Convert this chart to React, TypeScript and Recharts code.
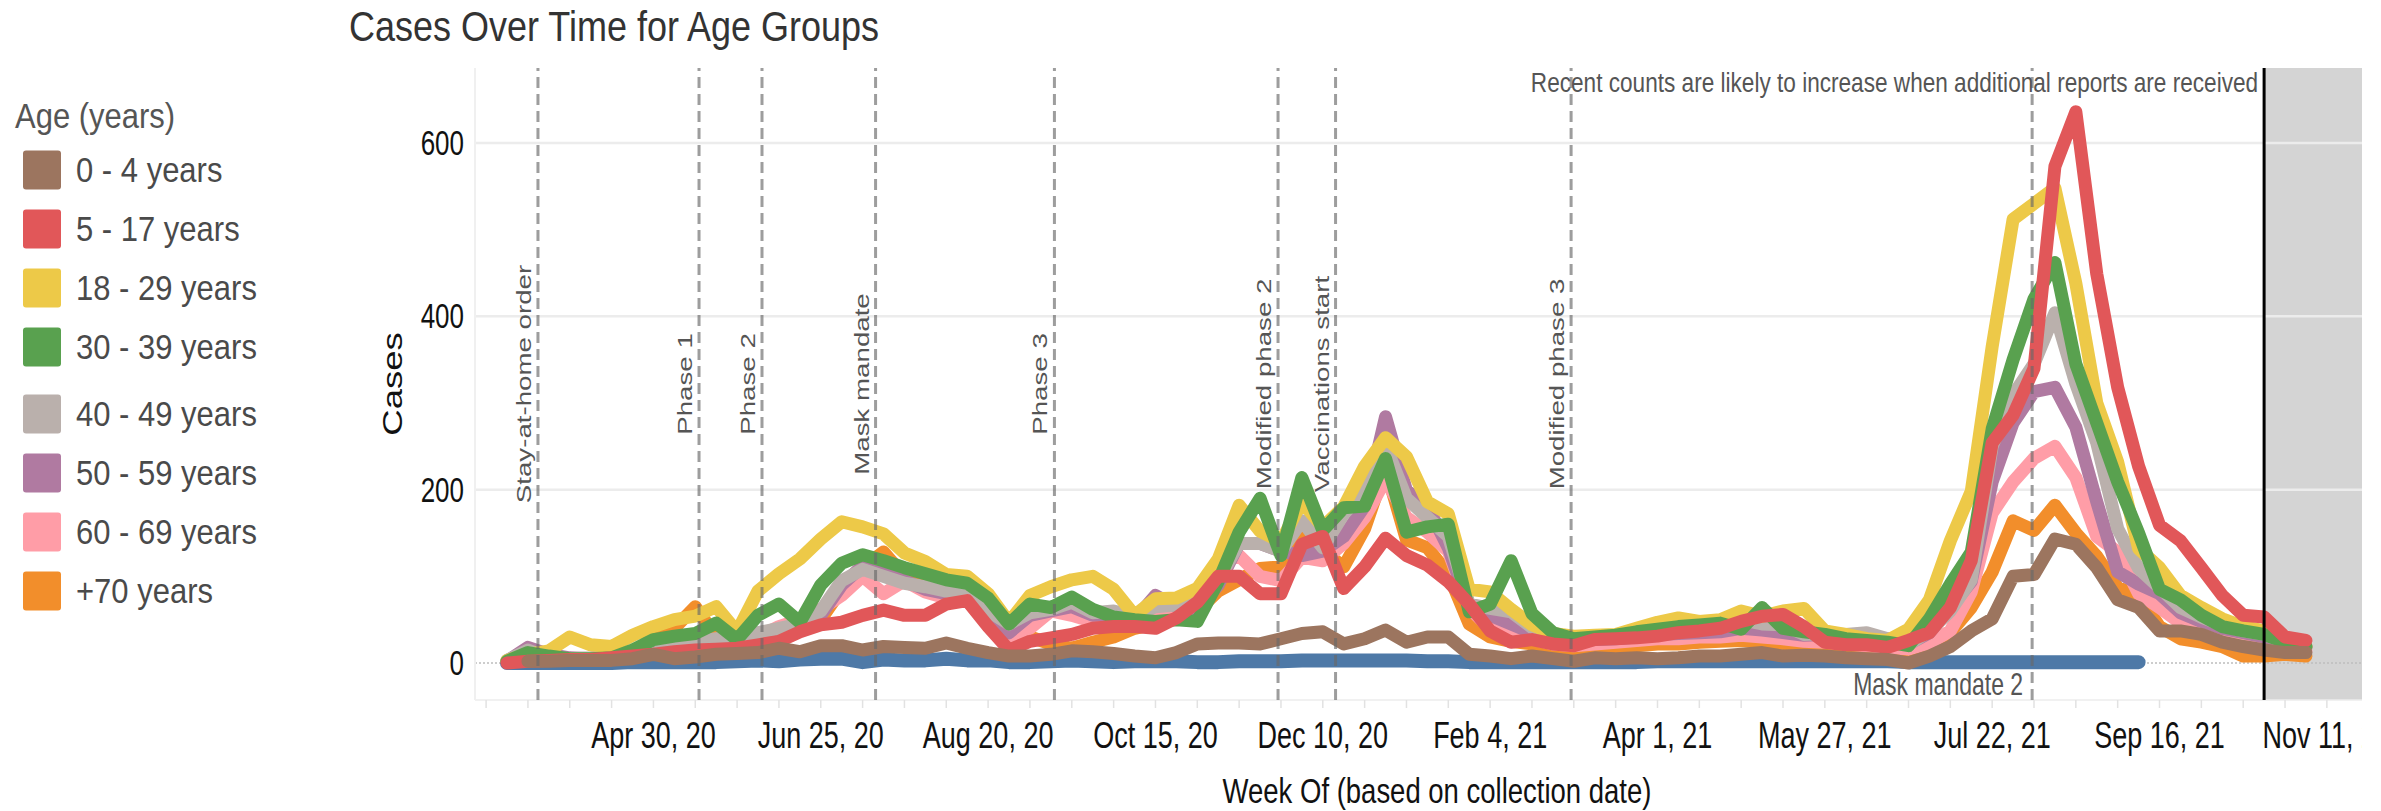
import React from "react";
import { LineChart, Line, XAxis, YAxis, ReferenceLine, ReferenceArea } from "recharts";

const FONT = '"Liberation Sans", Arial, Helvetica, sans-serif';
// text in the reference is drawn taller than wide
const STRETCH = 1.35;

const CHART_W = 2381;
const CHART_H = 811;
const MARGIN = { top: 68, right: 19, bottom: 0, left: 0 };
const PLOT_RIGHT = CHART_W - MARGIN.right;

// week index 0 = week of Mar 12, 2020
const tickWeeks = [7, 15, 23, 31, 39, 47, 55, 63, 71, 79, 87];
const tickLabels = [
  "Apr 30, 20",
  "Jun 25, 20",
  "Aug 20, 20",
  "Oct 15, 20",
  "Dec 10, 20",
  "Feb 4, 21",
  "Apr 1, 21",
  "May 27, 21",
  "Jul 22, 21",
  "Sep 16, 21",
  "Nov 11, 21",
];

const eventWeeks = [1.48, 9.18, 12.19, 17.62, 26.17, 36.86, 39.61, 50.87, 72.91];
const eventLabels = [
  "Stay-at-home order",
  "Phase 1",
  "Phase 2",
  "Mask mandate",
  "Phase 3",
  "Modified phase 2",
  "Vaccinations start",
  "Modified phase 3",
  "Mask mandate 2",
];
const recentCutoffWeek = 84;

const ageLabels = [
  "0 - 4 years",
  "5 - 17 years",
  "18 - 29 years",
  "30 - 39 years",
  "40 - 49 years",
  "50 - 59 years",
  "60 - 69 years",
  "+70 years",
];
const ageColors = ["#9c755f", "#e15759", "#edc948", "#59a14f", "#bab0ac", "#b07aa1", "#ff9da7", "#f28e2b"];

const age0to4 = [
  null, 2, 2, 3, 3, 3, 5, 10, 5, 7,
  10, 11, 12, 17, 13, 20, 20, 15, 19, 18,
  17, 23, 17, 12, 8, 8, 10, 14, 13, 11,
  8, 6, 12, 22, 23, 23, 22, 28, 34, 36,
  22, 28, 38, 24, 30, 30, 10, 8, 5, 8,
  5, 2, 6, 5, 6, 5, 6, 8, 8, 10,
  12, 8, 9, 8, 6, 5, 4, 0, 8, 19,
  37, 51, 100, 102, 143, 137, 110, 73, 64, 37,
  37, 33, 24, 19, 15, 12, 12,
];
const age5to17 = [
  0, 2, 3, 4, 4, 6, 8, 10, 13, 15,
  16, 17, 21, 25, 36, 44, 47, 55, 61, 55,
  55, 68, 72, 42, 15, 25, 29, 33, 40, 42,
  42, 40, 52, 70, 100, 100, 80, 80, 137, 146,
  86, 111, 144, 124, 113, 94, 68, 37, 24, 27,
  22, 20, 27, 28, 29, 31, 35, 37, 40, 48,
  54, 56, 42, 24, 21, 21, 18, 26, 35, 64,
  118, 254, 286, 340, 573, 636, 449, 318, 227, 159,
  141, 110, 78, 55, 53, 30, 26,
];
const age18to29 = [
  3, 10, 14, 30, 21, 19, 32, 42, 50, 54,
  65, 36, 83, 103, 120, 143, 163, 157, 149, 127,
  117, 102, 100, 80, 47, 78, 88, 96, 100, 85,
  55, 74, 75, 86, 120, 182, 152, 140, 186, 157,
  180, 227, 260, 238, 186, 172, 85, 82, 62, 44,
  34, 31, 32, 33, 40, 47, 52, 48, 50, 60,
  54, 60, 63, 37, 33, 28, 26, 39, 73, 141,
  198, 365, 512, 530, 548, 438, 300, 232, 132, 110,
  78, 64, 51, 42, 37, 24, 19,
];
const age30to39 = [
  2, 12, 8, 5, 5, 6, 15, 27, 31, 34,
  46, 27, 55, 68, 47, 90, 115, 125, 118, 110,
  103, 96, 92, 75, 45, 68, 64, 76, 62, 53,
  50, 48, 50, 48, 94, 151, 190, 124, 214, 153,
  179, 181, 236, 151, 157, 160, 59, 68, 118, 57,
  35, 28, 30, 32, 36, 39, 42, 44, 46, 39,
  64, 40, 36, 33, 28, 26, 24, 20, 51, 91,
  128, 270, 350, 420, 462, 345, 277, 209, 150, 85,
  73, 55, 42, 37, 33, 24, 19,
];
const age40to49 = [
  3, 15, 6, 5, 6, 8, 12, 18, 20, 25,
  28, 30, 35, 40, 45, 60, 95, 108, 100, 92,
  88, 83, 78, 60, 45, 58, 62, 70, 58, 60,
  54, 65, 67, 70, 95, 138, 138, 129, 164, 133,
  172, 198, 251, 190, 168, 146, 68, 63, 59, 41,
  30, 28, 28, 30, 33, 36, 38, 40, 41, 50,
  45, 44, 33, 34, 33, 35, 28, 21, 37, 60,
  96, 250, 309, 345, 404, 322, 254, 155, 109, 87,
  64, 53, 44, 37, 33, 24, 19,
];
const age50to59 = [
  2, 18, 10, 6, 5, 8, 10, 15, 20, 22,
  25, 28, 32, 38, 42, 55, 90, 112, 110, 95,
  85, 80, 75, 55, 35, 55, 60, 65, 55, 55,
  50, 78, 65, 62, 90, 138, 138, 129, 124, 129,
  146, 181, 284, 199, 181, 133, 63, 55, 45, 35,
  28, 26, 27, 28, 30, 33, 34, 35, 36, 40,
  38, 35, 32, 33, 32, 30, 28, 22, 35, 64,
  94, 209, 277, 313, 318, 272, 186, 105, 91, 80,
  58, 48, 40, 35, 30, 22, 18,
];
const age60to69 = [
  2, 5, 5, 4, 5, 6, 10, 14, 16, 20,
  22, 22, 30, 42, 50, 62, 78, 100, 80, 95,
  82, 75, 72, 45, 30, 40, 60, 55, 48, 50,
  45, 50, 60, 65, 114, 124, 100, 95, 122, 118,
  138, 168, 212, 168, 151, 129, 63, 40, 35, 28,
  22, 20, 22, 24, 26, 28, 28, 30, 30, 32,
  30, 28, 25, 24, 22, 20, 18, 16, 23, 37,
  82, 173, 209, 236, 250, 214, 146, 128, 80, 64,
  46, 39, 33, 26, 22, 18, 14,
];
const age70plus = [
  2, 4, 5, 4, 4, 6, 10, 30, 40, 65,
  30, 20, 25, 32, 38, 50, 85, 110, 128, 100,
  88, 80, 75, 50, 25, 30, 22, 17, 24, 30,
  40, 45, 55, 60, 83, 96, 109, 111, 151, 129,
  111, 155, 225, 142, 133, 103, 45, 30, 25, 22,
  18, 16, 16, 18, 20, 22, 22, 24, 25, 26,
  24, 22, 20, 18, 16, 14, 12, 12, 18, 35,
  64, 105, 164, 153, 182, 150, 123, 87, 78, 42,
  28, 24, 19, 8, 8, 10, 8,
];
// unlabelled blue series, stops before the last weeks
const unassigned = [
  0, 0, 0, 0, 0, 0, 1, 1, 1, 1,
  1, 2, 3, 2, 4, 5, 5, 1, 4, 3,
  3, 5, 3, 3, 1, 1, 2, 3, 2, 1,
  2, 2, 2, 1, 1, 2, 2, 2, 3, 3,
  3, 3, 3, 3, 2, 2, 1, 1, 1, 1,
  1, 1, 1, 1, 1, 2, 2, 2, 2, 2,
  2, 2, 2, 2, 2, 2, 2, 1, 1, 1,
  1, 1, 1, 1, 1, 1, 1, 1, 1, null,
  null, null, null, null, null, null, null,
];

const seriesValues = [age0to4, age5to17, age18to29, age30to39, age40to49, age50to59, age60to69, age70plus];
const seriesKeys = ["a0", "a5", "a18", "a30", "a40", "a50", "a60", "a70"];
// bottom to top
const drawOrder = [7, 6, 5, 4, 2, 3, 1, 0];

const rows = age5to17.map((_, i) => {
  const row: Record<string, number | null> = { week: i, unknown: unassigned[i] };
  seriesKeys.forEach((k, s) => {
    row[k] = seriesValues[s][i];
  });
  return row;
});

const axisTicks: number[] = [];
for (let w = -1; w <= 87; w += 2) axisTicks.push(w);

const XTick = ({ x, y, payload }: any) => {
  const idx = tickWeeks.indexOf(payload.value);
  if (idx < 0) return null;
  const id = `xclip-${idx}`;
  return (
    <g>
      <defs>
        <clipPath id={id}>
          <rect x={0} y={0} width={PLOT_RIGHT} height={CHART_H} />
        </clipPath>
      </defs>
      <g clipPath={`url(#${id})`}>
        <text
          transform={`translate(${x},${y + 27}) scale(1,${STRETCH})`}
          textAnchor="middle"
          dominantBaseline="central"
          fontSize={27}
          fontFamily={FONT}
          fill="#111"
        >
          {tickLabels[idx]}
        </text>
      </g>
    </g>
  );
};

const YTick = ({ x, y, payload }: any) => (
  <text
    transform={`translate(${x},${y}) scale(1,${STRETCH})`}
    textAnchor="end"
    dominantBaseline="central"
    fontSize={26}
    fontFamily={FONT}
    fill="#111"
  >
    {payload.value}
  </text>
);

const eventLabel = (text: string, horizontal: boolean) => (props: any) => {
  const vb = props.viewBox || {};
  if (horizontal) {
    return (
      <text
        transform={`translate(${vb.x - 9},${vb.y + vb.height - 16}) scale(1,${STRETCH})`}
        textAnchor="end"
        dominantBaseline="central"
        fontSize={23}
        fontFamily={FONT}
        fill="#555"
      >
        {text}
      </text>
    );
  }
  return (
    <text
      transform={`translate(${vb.x - 7},${vb.y + vb.height / 2}) rotate(-90) scale(${STRETCH},1)`}
      textAnchor="middle"
      fontSize={20.5}
      fontFamily={FONT}
      fill="#555"
    >
      {text}
    </text>
  );
};

const recentLabel = (props: any) => {
  const vb = props.viewBox || {};
  return (
    <text
      transform={`translate(${vb.x - 6},${vb.y + 14}) scale(1,1.25)`}
      textAnchor="end"
      dominantBaseline="central"
      fontSize={22.6}
      fontFamily={FONT}
      fill="#555"
    >
      Recent counts are likely to increase when additional reports are received
    </text>
  );
};

const legendRowY = (i: number) => 170 + i * 59 + (i >= 4 ? 8 : 0);

const Overlay = () => (
  <svg
    width={CHART_W}
    height={CHART_H}
    style={{ position: "absolute", left: 0, top: 0, pointerEvents: "none" }}
  >
    <text
      transform={`translate(349,26) scale(1,1.2)`}
      dominantBaseline="central"
      fontSize={36}
      fontFamily={FONT}
      fill="#333"
    >
      Cases Over Time for Age Groups
    </text>
    <text
      transform={`translate(402,384) rotate(-90) scale(${STRETCH},1)`}
      textAnchor="middle"
      fontSize={27}
      fontFamily={FONT}
      fill="#111"
    >
      Cases
    </text>
    <text
      transform={`translate(1437,791) scale(1,1.3)`}
      textAnchor="middle"
      dominantBaseline="central"
      fontSize={27.5}
      fontFamily={FONT}
      fill="#111"
    >
      Week Of (based on collection date)
    </text>
    <text
      transform={`translate(15,116) scale(1,1.12)`}
      dominantBaseline="central"
      fontSize={31}
      fontFamily={FONT}
      fill="#555"
    >
      Age (years)
    </text>
    {ageLabels.map((label, i) => (
      <g key={label}>
        <rect x={23} y={legendRowY(i) - 19.5} width={38} height={39} rx={3} fill={ageColors[i]} />
        <text
          transform={`translate(76,${legendRowY(i)}) scale(1,1.12)`}
          dominantBaseline="central"
          fontSize={31}
          fontFamily={FONT}
          fill="#4a4a4a"
        >
          {label}
        </text>
      </g>
    ))}
  </svg>
);

export default function App() {
  return (
    <div
      style={{
        position: "absolute",
        left: 0,
        top: 0,
        width: CHART_W,
        height: CHART_H,
        background: "#fff",
      }}
    >
      <LineChart width={CHART_W} height={CHART_H} data={rows} margin={MARGIN}>
        <XAxis
          dataKey="week"
          type="number"
          domain={[-1.53, 88.68]}
          allowDataOverflow
          ticks={axisTicks}
          interval={0}
          tick={<XTick />}
          tickSize={8}
          tickMargin={0}
          tickLine={{ stroke: "#e2e2e2", strokeWidth: 1.5 }}
          axisLine={{ stroke: "#ececec", strokeWidth: 1.5 }}
          height={111}
        />
        <YAxis
          type="number"
          domain={[-42.7, 686.5]}
          allowDataOverflow
          ticks={[0, 200, 400, 600]}
          interval={0}
          tick={<YTick />}
          tickLine={false}
          tickSize={0}
          tickMargin={11}
          axisLine={{ stroke: "#f0f0f0", strokeWidth: 2 }}
          width={475}
        />
        <ReferenceArea
          x1={recentCutoffWeek}
          x2={88.68}
          fill="#d4d4d4"
          fillOpacity={1}
          stroke="none"
          ifOverflow="hidden"
          zIndex={50}
        />
        {[200, 400, 600].map((v) => (
          <ReferenceLine key={v} y={v} stroke="#ececec" strokeWidth={2.5} zIndex={60} />
        ))}
        <ReferenceLine y={0} stroke="#bdbdbd" strokeWidth={1.5} strokeDasharray="2 2" zIndex={70} />
        <Line
          dataKey="unknown"
          type="linear"
          stroke="#4e79a7"
          strokeWidth={14}
          strokeLinejoin="round"
          strokeLinecap="round"
          dot={false}
          activeDot={false}
          isAnimationActive={false}
        />
        {drawOrder.map((s) => (
          <Line
            key={seriesKeys[s]}
            dataKey={seriesKeys[s]}
            name={ageLabels[s]}
            type="linear"
            stroke={ageColors[s]}
            strokeWidth={13}
            strokeLinejoin="round"
            strokeLinecap="round"
            dot={false}
            activeDot={false}
            isAnimationActive={false}
          />
        ))}
        {eventWeeks.map((w, i) => (
          <ReferenceLine
            key={eventLabels[i]}
            x={w}
            stroke="rgba(105,105,105,0.65)"
            strokeWidth={3}
            strokeDasharray="11 6"
            label={eventLabel(eventLabels[i], i === eventWeeks.length - 1)}
            zIndex={500}
          />
        ))}
        <ReferenceLine
          x={recentCutoffWeek}
          stroke="#000"
          strokeWidth={3}
          label={recentLabel}
          zIndex={510}
        />
      </LineChart>
      <Overlay />
    </div>
  );
}
